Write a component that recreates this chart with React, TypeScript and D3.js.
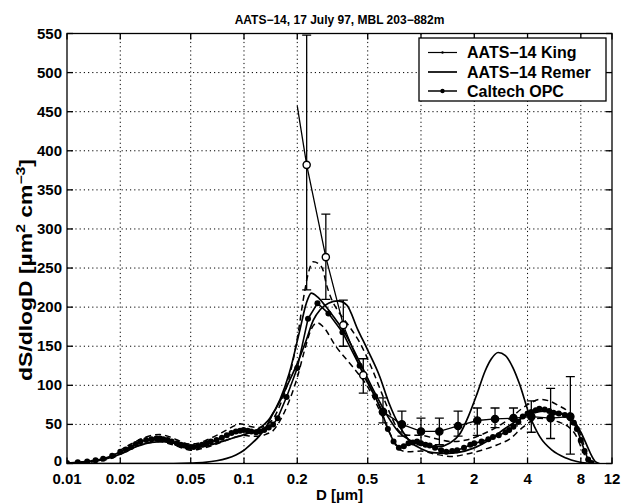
import React from "react";
import * as d3 from "d3";

const W = 622;
const H = 504;

const titleText = "AATS\u221214, 17 July 97, MBL 203\u2212882m";
const xTickValues = [0.01, 0.02, 0.05, 0.1, 0.2, 0.5, 1, 2, 4, 8, 12];
const xTickLabels = ["0.01", "0.02", "0.05", "0.1", "0.2", "0.5", "1", "2", "4", "8", "12"];
const yTickValues = [0, 50, 100, 150, 200, 250, 300, 350, 400, 450, 500, 550];
const legendLabels = ["AATS\u221214 King", "AATS\u221214 Remer", "Caltech OPC"];

// AATS-14 King: discrete retrieval with error bars
const kingD = [0.2, 0.226, 0.29, 0.364, 0.472, 0.61, 0.78, 1.0, 1.27, 1.62, 2.08, 2.62, 3.33, 4.2, 5.4, 6.98];
const kingVal = [457, 382, 264, 177, 113, 66, 50, 41, 41, 48, 55, 57, 58, 60, 58, 60];
const kingLow = [null, 222, 210, 150, 90, 52, 35, 24, 24, 35, 36, 46, 48, 40, 32, 12];
const kingHigh = [null, 548, 319, 209, 134, 84, 67, 58, 58, 67, 71, 71, 71, 80, 96, 111];

// AATS-14 Remer (smooth, strong coarse mode)
const remer: [number, number][] = [
  [0.01, 0.5], [0.013, 2], [0.016, 5], [0.02, 12], [0.025, 22], [0.03, 27], [0.035, 28], [0.042, 25],
  [0.05, 21], [0.06, 22], [0.07, 26], [0.085, 32], [0.1, 37], [0.12, 44], [0.14, 58], [0.16, 82],
  [0.18, 115], [0.207, 171], [0.225, 205], [0.24, 218], [0.26, 213], [0.285, 203], [0.32, 188],
  [0.36, 172], [0.45, 130], [0.55, 90], [0.65, 60], [0.75, 40], [0.9, 28], [1.1, 22], [1.25, 21.5],
  [1.45, 26], [1.67, 39], [1.85, 60], [2.08, 90], [2.3, 118], [2.5, 134], [2.73, 142], [3.0, 138],
  [3.3, 123], [3.6, 102], [4.1, 62], [4.7, 34], [5.5, 17], [6.6, 7], [7.6, 2.5], [8.6, 0.5], [9.5, 0],
];

// second smooth retrieval curve
const fitCurve: [number, number][] = [
  [0.01, 0], [0.04, 0], [0.05, 0.5], [0.06, 1.5], [0.07, 3.5], [0.08, 6.6], [0.09, 11], [0.1, 17],
  [0.11, 25], [0.123, 36], [0.135, 49], [0.146, 64], [0.16, 80], [0.174, 98], [0.2, 128], [0.225, 158],
  [0.246, 183], [0.27, 197], [0.3, 205], [0.34, 208], [0.38, 203], [0.44, 171], [0.5, 145], [0.585, 111],
  [0.66, 77], [0.76, 47], [0.87, 28], [1.0, 19], [1.17, 14], [1.4, 13], [1.6, 14], [2.0, 20], [2.5, 32],
  [3.0, 45], [3.5, 55], [4.0, 62], [5.0, 67], [6.0, 65], [7.0, 58], [8.0, 40], [8.7, 22], [9.2, 10],
  [9.7, 2], [10.2, 0],
];

// Caltech OPC measured distribution
const opc: [number, number][] = [
  [0.01, 0.5], [0.0115, 1.5], [0.013, 2.5], [0.0145, 4], [0.016, 6], [0.018, 10], [0.02, 15], [0.0215, 18],
  [0.023, 21], [0.0245, 25], [0.026, 28], [0.028, 30], [0.03, 31], [0.032, 32], [0.0335, 32], [0.035, 31],
  [0.037, 30], [0.039, 28], [0.0417, 26], [0.044, 24], [0.046, 23], [0.048, 21], [0.05, 21], [0.052, 21],
  [0.055, 22], [0.058, 24], [0.0615, 26], [0.065, 28], [0.07, 30], [0.075, 33], [0.08, 36], [0.085, 39],
  [0.09, 41], [0.095, 42], [0.0994, 43], [0.105, 42], [0.11, 41], [0.117, 40], [0.123, 41], [0.13, 43],
  [0.138, 46], [0.146, 50], [0.155, 58], [0.174, 85], [0.2, 122], [0.23, 185], [0.26, 205], [0.3, 192],
  [0.36, 168], [0.45, 125], [0.55, 86], [0.6, 66], [0.65, 44], [0.7, 28], [0.75, 20], [0.8, 22],
  [0.85, 26], [0.9, 27], [0.95, 28], [1.0, 26], [1.06, 24], [1.12, 23], [1.2, 20], [1.3, 17], [1.39, 15],
  [1.5, 16], [1.6, 17], [1.75, 20], [1.9, 24], [2.0, 26], [2.2, 28], [2.4, 31], [2.55, 34], [2.75, 36],
  [3.0, 40], [3.15, 43], [3.33, 47], [3.55, 53], [3.76, 60], [4.0, 64], [4.2, 66], [4.45, 68], [4.66, 70],
  [5.0, 69], [5.3, 67], [5.6, 65], [6.0, 64], [6.5, 62], [7.0, 58], [7.3, 52], [7.6, 44], [8.0, 30],
  [8.4, 16], [8.8, 5], [9.2, 0.5],
];

// OPC uncertainty bounds (dashed)
const opcUpper: [number, number][] = [
  [0.012, 2], [0.015, 5], [0.018, 10], [0.02, 17], [0.023, 25], [0.026, 31], [0.03, 36], [0.0335, 37],
  [0.037, 35], [0.042, 30], [0.046, 26], [0.05, 25], [0.055, 26], [0.06, 29], [0.07, 36], [0.08, 43],
  [0.09, 49], [0.095, 51], [0.1, 50], [0.11, 47], [0.123, 46], [0.135, 50], [0.146, 57], [0.16, 75],
  [0.18, 110], [0.2, 160], [0.216, 209], [0.23, 242], [0.246, 258], [0.262, 256], [0.28, 247], [0.29, 232],
  [0.31, 212], [0.34, 195], [0.38, 180], [0.45, 155], [0.52, 125], [0.6, 90], [0.68, 60], [0.75, 42],
  [0.85, 36], [1.0, 36], [1.2, 32], [1.5, 28], [1.8, 30], [2.2, 37], [2.7, 47], [3.2, 58], [3.7, 70],
  [4.2, 78], [4.7, 82], [5.3, 80], [6.0, 74], [6.8, 66], [7.5, 52], [8.2, 28], [8.8, 8], [9.3, 0.5],
];
const opcLower: [number, number][] = [
  [0.012, 1], [0.015, 3], [0.018, 7], [0.02, 12], [0.023, 19], [0.026, 24], [0.03, 27], [0.0335, 28],
  [0.037, 26], [0.042, 22], [0.046, 19], [0.05, 17], [0.055, 18], [0.06, 20], [0.07, 25], [0.08, 30],
  [0.09, 34], [0.1, 36], [0.11, 35], [0.123, 35], [0.135, 38], [0.146, 42], [0.16, 55], [0.18, 80],
  [0.2, 110], [0.22, 145], [0.24, 172], [0.26, 180], [0.28, 175], [0.33, 150], [0.41, 124], [0.5, 98],
  [0.6, 62], [0.68, 35], [0.75, 18], [0.85, 15], [1.0, 16], [1.2, 12], [1.5, 9], [1.8, 12], [2.2, 17],
  [2.7, 24], [3.2, 32], [3.7, 45], [4.2, 54], [4.7, 58], [5.3, 56], [6.0, 53], [6.8, 47], [7.5, 36],
  [8.2, 16], [8.8, 3], [9.3, 0],
];

export default function App() {
  const left = 67, right = 612, top = 33.5, bottom = 463.5;
  const x = d3.scaleLog().domain([0.01, 12]).range([left, right]);
  const y = d3.scaleLinear().domain([0, 550]).range([bottom, top]);

  const smooth = d3.line<[number, number]>().x(d => x(d[0])).y(d => y(d[1])).curve(d3.curveMonotoneX);
  const straight = d3.line<[number, number]>().x(d => x(d[0])).y(d => y(d[1]));

  const king: [number, number][] = kingD.map((d, i) => [d, kingVal[i]]);
  const font = "'Liberation Sans', Arial, Helvetica, sans-serif";
  const ink = "#000";

  const legendX = 419, legendY = 38, legendW = 187, legendH = 63;
  const rowY = [52.5, 72, 91];

  return (
    <svg width={W} height={H} style={{ position: "absolute", left: 0, top: 0, background: "#fff" }}>
      <rect x={0} y={0} width={W} height={H} fill="#fff" />
      <defs>
        <clipPath id="plotclip">
          <rect x={left} y={top} width={right - left} height={bottom - top} />
        </clipPath>
      </defs>

      {/* grid */}
      <g stroke={ink} strokeWidth={1} strokeDasharray="1.2,3">
        {xTickValues.slice(1, -1).map(v => (
          <line key={"gx" + v} x1={x(v)} x2={x(v)} y1={top} y2={bottom} />
        ))}
        {yTickValues.slice(1, -1).map(v => (
          <line key={"gy" + v} x1={left} x2={right} y1={y(v)} y2={y(v)} />
        ))}
      </g>

      <g clipPath="url(#plotclip)" fill="none" stroke={ink}>
        {/* dashed OPC bounds */}
        <path d={smooth(opcUpper) || ""} strokeWidth={1.5} strokeDasharray="6,4" />
        <path d={smooth(opcLower) || ""} strokeWidth={1.5} strokeDasharray="6,4" />
        {/* smooth retrievals */}
        <path d={smooth(fitCurve) || ""} strokeWidth={1.7} />
        <path d={smooth(remer) || ""} strokeWidth={1.7} />
        {/* OPC */}
        <path d={straight(opc) || ""} strokeWidth={1.6} />
        <g fill={ink} stroke="none">
          {opc.map((p, i) => (
            <circle key={"o" + i} cx={x(p[0])} cy={y(p[1])} r={3} />
          ))}
        </g>
        {/* King */}
        <path d={straight(king) || ""} strokeWidth={1.3} />
        {kingD.map((d, i) =>
          kingLow[i] == null ? null : (
            <g key={"k" + i} strokeWidth={1.3}>
              <line x1={x(d)} x2={x(d)} y1={y(kingLow[i] as number)} y2={y(kingHigh[i] as number)} />
              <line x1={x(d) - 4.5} x2={x(d) + 4.5} y1={y(kingLow[i] as number)} y2={y(kingLow[i] as number)} />
              <line x1={x(d) - 4.5} x2={x(d) + 4.5} y1={y(kingHigh[i] as number)} y2={y(kingHigh[i] as number)} />
              <circle cx={x(d)} cy={y(kingVal[i])} r={3.6} fill={d < 0.55 ? "#fff" : ink} strokeWidth={1.4} />
            </g>
          )
        )}
      </g>

      {/* axes box and ticks */}
      <g stroke={ink} strokeWidth={1.3} fill="none">
        <rect x={left} y={top} width={right - left} height={bottom - top} />
        {xTickValues.map(v => (
          <g key={"tx" + v}>
            <line x1={x(v)} x2={x(v)} y1={bottom} y2={bottom - 6} />
            <line x1={x(v)} x2={x(v)} y1={top} y2={top + 6} />
          </g>
        ))}
        {yTickValues.map(v => (
          <g key={"ty" + v}>
            <line x1={left} x2={left + 6} y1={y(v)} y2={y(v)} />
            <line x1={right} x2={right - 6} y1={y(v)} y2={y(v)} />
          </g>
        ))}
      </g>

      {/* tick labels */}
      <g fontFamily={font} fontSize={15} fontWeight="bold" fill={ink}>
        {xTickValues.map((v, i) => (
          <text key={"lx" + v} x={x(v)} y={484} textAnchor="middle">{xTickLabels[i]}</text>
        ))}
        {yTickValues.map(v => (
          <text key={"ly" + v} x={62} y={y(v) + (v === 0 ? 2 : 5)} textAnchor="end">{v}</text>
        ))}
      </g>

      {/* title and axis labels */}
      <text x={(left + right) / 2} y={24} textAnchor="middle" fontFamily={font} fontSize={12} fontWeight="bold">
        {titleText}
      </text>
      <text x={(left + right) / 2} y={500} textAnchor="middle" fontFamily={font} fontSize={15} fontWeight="bold">
        D [µm]
      </text>
      <text
        transform={`translate(32,270) rotate(-90)`}
        textAnchor="middle"
        fontFamily={font}
        fontSize={17.5}
        fontWeight="bold"
        textLength={222}
        lengthAdjust="spacingAndGlyphs"
      >
        dS/dlogD [µm<tspan dy={-7} fontSize={12}>2</tspan><tspan dy={7}> cm</tspan><tspan dy={-7} fontSize={12}>{"\u22123"}</tspan><tspan dy={7}>]</tspan>
      </text>

      {/* legend */}
      <g>
        <rect x={legendX} y={legendY} width={legendW} height={legendH} fill="#fff" stroke={ink} strokeWidth={1.3} />
        {legendLabels.map((lab, i) => (
          <g key={"lg" + i}>
            <line x1={428} x2={457} y1={rowY[i]} y2={rowY[i]} stroke={ink} strokeWidth={i === 0 ? 1.2 : i === 1 ? 1.7 : 1.5} />
            {i === 0 && <circle cx={442.5} cy={rowY[i]} r={1.2} fill={ink} />}
            {i === 2 && <circle cx={442.5} cy={rowY[i]} r={2.2} fill={ink} />}
            <text x={467} y={rowY[i] + 5.5} fontFamily={font} fontSize={16} fontWeight="bold" fill={ink}>{lab}</text>
          </g>
        ))}
      </g>
    </svg>
  );
}
